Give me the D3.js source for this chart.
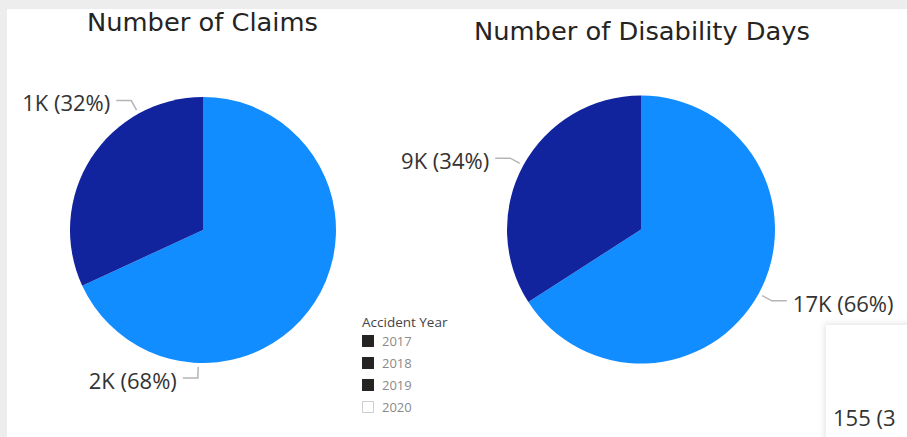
<!DOCTYPE html>
<html>
<head>
<meta charset="utf-8">
<script src="https://cdn.jsdelivr.net/npm/d3@7"></script>
<style>
  html, body { margin: 0; padding: 0; background: #ededed; overflow: hidden; }
  svg { display: block; }
</style>
</head>
<body>
<div id="chart"></div>
<script>
// Data
var sliceNames = ["Light", "Dark"];
var claimsValues = [1560, 730];      // 2K (68%), 1K (32%)
var daysValues = [17000, 8800];      // 17K (66%), 9K (34%)
var legendTitle = "Accident Year";
var legendYears = ["2017", "2018", "2019", "2020"];
var titles = ["Number of Claims", "Number of Disability Days"];

var width = 907;
var height = 437;

var colors = d3.scaleOrdinal().domain(sliceNames).range(["#118dff", "#12239e"]);

var svg = d3.select("#chart").append("svg")
    .attr("width", width)
    .attr("height", height);

var defs = svg.append("defs");
var shadow = defs.append("filter").attr("id", "shadow")
    .attr("x", "-20%").attr("y", "-20%").attr("width", "140%").attr("height", "140%");
shadow.append("feDropShadow")
    .attr("dx", -1).attr("dy", -1).attr("stdDeviation", 3)
    .attr("flood-color", "#000").attr("flood-opacity", 0.12);

// white report canvas
svg.append("rect")
    .attr("x", 7).attr("y", 9)
    .attr("width", width).attr("height", height)
    .attr("fill", "#ffffff");

// helper: value formatting like "2K (68%)"
function fmtLabel(v, total) {
    return Math.round(v / 1000) + "K (" + Math.round(v / total * 100) + "%)";
}

// draw one pie
function drawPie(cfg) {
    var total = d3.sum(cfg.values);
    var pie = d3.pie().sort(null).value(function(d) { return d; });
    var arcs = pie(cfg.values);
    var arc = d3.arc().innerRadius(0).outerRadius(cfg.r);

    var g = svg.append("g").attr("transform", "translate(" + cfg.cx + "," + cfg.cy + ")");

    g.selectAll("path.slice")
        .data(arcs)
        .enter()
        .append("path")
        .attr("class", "slice")
        .attr("d", arc)
        .attr("fill", function(d, i) { return colors(sliceNames[i]); });

    arcs.forEach(function(d, i) {
        var a = cfg.labelAngles[i] != null ? cfg.labelAngles[i] * Math.PI / 180 : (d.startAngle + d.endAngle) / 2;
        var sx = Math.sin(a), sy = -Math.cos(a);
        var p0 = [sx * (cfg.r + 4), sy * (cfg.r + 4)];
        var p1 = [sx * (cfg.r + 15), sy * (cfg.r + 15)];
        var side = cfg.labelSide[i];
        var p2 = [p1[0] + side * 15, p1[1]];

        g.append("path")
            .attr("d", d3.line()([p0, p1, p2]))
            .attr("fill", "none")
            .attr("stroke", "#b5b5b5")
            .attr("stroke-width", 1.5);

        g.append("text")
            .attr("x", p2[0] + side * 6)
            .attr("y", p2[1] + 3)
            .attr("dy", "0.35em")
            .attr("text-anchor", side > 0 ? "start" : "end")
            .attr("font-family", "'Segoe UI', 'Open Sans', sans-serif")
            .attr("font-size", 22)
            .attr("fill", "#333333")
            .text(fmtLabel(d.data, total));
    });
}

drawPie({ cx: 203, cy: 230, r: 133, values: claimsValues, labelAngles: [182, 331], labelSide: [-1, -1] });
drawPie({ cx: 641, cy: 229.5, r: 134, values: daysValues, labelAngles: [null, null], labelSide: [1, -1] });

// titles
svg.append("text")
    .attr("x", 87).attr("y", 31)
    .attr("font-family", "DIN, 'DejaVu Sans Condensed', 'Liberation Sans Narrow', Roboto, sans-serif")
    .attr("font-size", 25)
    .attr("font-weight", 500)
    .attr("fill", "#252423")
    .attr("textLength", 231).attr("lengthAdjust", "spacingAndGlyphs")
    .text(titles[0]);

svg.append("text")
    .attr("x", 474).attr("y", 40)
    .attr("font-family", "DIN, 'DejaVu Sans Condensed', 'Liberation Sans Narrow', Roboto, sans-serif")
    .attr("font-size", 25)
    .attr("font-weight", 500)
    .attr("fill", "#252423")
    .attr("textLength", 336).attr("lengthAdjust", "spacingAndGlyphs")
    .text(titles[1]);

// legend
var legend = svg.append("g").attr("transform", "translate(362,322)");
legend.append("text")
    .attr("x", 0).attr("y", 0).attr("dy", "0.35em")
    .attr("font-family", "'Segoe UI', 'Open Sans', sans-serif")
    .attr("font-size", 13.5)
    .attr("fill", "#444444")
    .text(legendTitle);

var items = legend.selectAll("g.item")
    .data(legendYears)
    .enter()
    .append("g")
    .attr("class", "item")
    .attr("transform", function(d, i) { return "translate(0," + (19 + i * 22) + ")"; });

items.append("rect")
    .attr("x", 0.5).attr("y", -5.5)
    .attr("width", 11).attr("height", 11)
    .attr("fill", function(d, i) { return i < 3 ? "#252423" : "#ffffff"; })
    .attr("stroke", function(d, i) { return i < 3 ? "#252423" : "#d0d0d0"; });

items.append("text")
    .attr("x", 20).attr("y", 0).attr("dy", "0.35em")
    .attr("font-family", "'Segoe UI', 'Open Sans', sans-serif")
    .attr("font-size", 13)
    .attr("fill", "#8a8a8a")
    .text(function(d) { return d; });

// neighbouring visual peeking in at bottom right
var side = svg.append("g");
side.append("rect")
    .attr("x", 826).attr("y", 325)
    .attr("width", 120).attr("height", 150)
    .attr("fill", "#ffffff")
    .attr("filter", "url(#shadow)");
side.append("text")
    .attr("x", 833).attr("y", 418).attr("dy", "0.35em")
    .attr("font-family", "'Segoe UI', 'Open Sans', sans-serif")
    .attr("font-size", 22)
    .attr("fill", "#333333")
    .text("155 (3");
</script>
</body>
</html>
